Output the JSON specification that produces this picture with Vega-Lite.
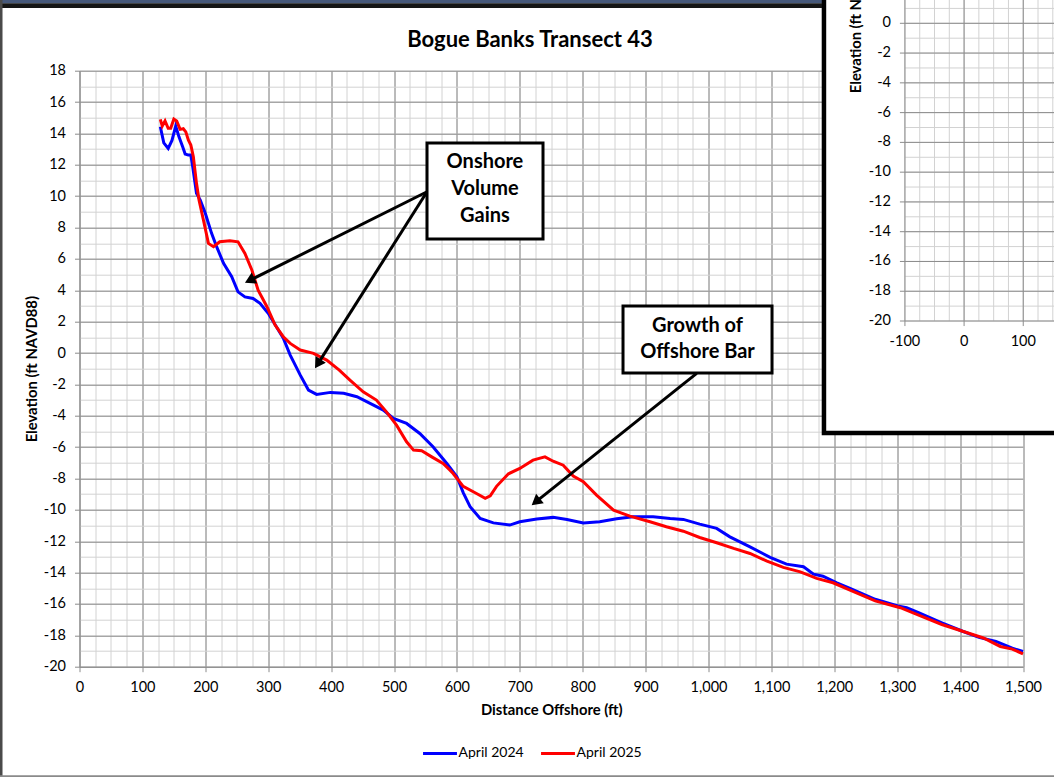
{
  "$schema": "https://vega.github.io/schema/vega-lite/v6.json",
  "width": 943.5,
  "height": 596,
  "autosize": {"type": "none"},
  "padding": {"left": 79.5, "top": 70.7, "right": 31, "bottom": 110.3},
  "background": "white",
  "config": {"view": {"stroke": null}, "font": "Lato"},
  "datasets": {
    "profiles": [
      {"survey": "April 2024", "distance": 128.5, "elevation": 14.43},
      {"survey": "April 2024", "distance": 134, "elevation": 13.4},
      {"survey": "April 2024", "distance": 141, "elevation": 13.05},
      {"survey": "April 2024", "distance": 147, "elevation": 13.55},
      {"survey": "April 2024", "distance": 153, "elevation": 14.47},
      {"survey": "April 2024", "distance": 158, "elevation": 13.8},
      {"survey": "April 2024", "distance": 164, "elevation": 13.15},
      {"survey": "April 2024", "distance": 168, "elevation": 12.69},
      {"survey": "April 2024", "distance": 173, "elevation": 12.62},
      {"survey": "April 2024", "distance": 177, "elevation": 12.62},
      {"survey": "April 2024", "distance": 180, "elevation": 11.88},
      {"survey": "April 2024", "distance": 186, "elevation": 10.18},
      {"survey": "April 2024", "distance": 192, "elevation": 9.75},
      {"survey": "April 2024", "distance": 200, "elevation": 8.91},
      {"survey": "April 2024", "distance": 210, "elevation": 7.63},
      {"survey": "April 2024", "distance": 218, "elevation": 6.78},
      {"survey": "April 2024", "distance": 229, "elevation": 5.72},
      {"survey": "April 2024", "distance": 242, "elevation": 4.86},
      {"survey": "April 2024", "distance": 252, "elevation": 3.9},
      {"survey": "April 2024", "distance": 263, "elevation": 3.58},
      {"survey": "April 2024", "distance": 276, "elevation": 3.48},
      {"survey": "April 2024", "distance": 287, "elevation": 3.17},
      {"survey": "April 2024", "distance": 300, "elevation": 2.53},
      {"survey": "April 2024", "distance": 313, "elevation": 1.67},
      {"survey": "April 2024", "distance": 324, "elevation": 0.95},
      {"survey": "April 2024", "distance": 335, "elevation": -0.13},
      {"survey": "April 2024", "distance": 351, "elevation": -1.41},
      {"survey": "April 2024", "distance": 364, "elevation": -2.36},
      {"survey": "April 2024", "distance": 377, "elevation": -2.64},
      {"survey": "April 2024", "distance": 399, "elevation": -2.51},
      {"survey": "April 2024", "distance": 420, "elevation": -2.57},
      {"survey": "April 2024", "distance": 441, "elevation": -2.79},
      {"survey": "April 2024", "distance": 462, "elevation": -3.21},
      {"survey": "April 2024", "distance": 483, "elevation": -3.64},
      {"survey": "April 2024", "distance": 499, "elevation": -4.17},
      {"survey": "April 2024", "distance": 520, "elevation": -4.49},
      {"survey": "April 2024", "distance": 541, "elevation": -5.13},
      {"survey": "April 2024", "distance": 562, "elevation": -5.98},
      {"survey": "April 2024", "distance": 584, "elevation": -7.04},
      {"survey": "April 2024", "distance": 600, "elevation": -7.89},
      {"survey": "April 2024", "distance": 610, "elevation": -8.9},
      {"survey": "April 2024", "distance": 621, "elevation": -9.8},
      {"survey": "April 2024", "distance": 637, "elevation": -10.55},
      {"survey": "April 2024", "distance": 658, "elevation": -10.83},
      {"survey": "April 2024", "distance": 684, "elevation": -10.97},
      {"survey": "April 2024", "distance": 700, "elevation": -10.76},
      {"survey": "April 2024", "distance": 727, "elevation": -10.59},
      {"survey": "April 2024", "distance": 753, "elevation": -10.48},
      {"survey": "April 2024", "distance": 775, "elevation": -10.61},
      {"survey": "April 2024", "distance": 801, "elevation": -10.83},
      {"survey": "April 2024", "distance": 827, "elevation": -10.76},
      {"survey": "April 2024", "distance": 854, "elevation": -10.57},
      {"survey": "April 2024", "distance": 880, "elevation": -10.44},
      {"survey": "April 2024", "distance": 912, "elevation": -10.44},
      {"survey": "April 2024", "distance": 939, "elevation": -10.55},
      {"survey": "April 2024", "distance": 960, "elevation": -10.61},
      {"survey": "April 2024", "distance": 986, "elevation": -10.91},
      {"survey": "April 2024", "distance": 1013, "elevation": -11.18},
      {"survey": "April 2024", "distance": 1034, "elevation": -11.72},
      {"survey": "April 2024", "distance": 1066, "elevation": -12.36},
      {"survey": "April 2024", "distance": 1098, "elevation": -13.03},
      {"survey": "April 2024", "distance": 1124, "elevation": -13.46},
      {"survey": "April 2024", "distance": 1151, "elevation": -13.63},
      {"survey": "April 2024", "distance": 1167, "elevation": -14.1},
      {"survey": "April 2024", "distance": 1182, "elevation": -14.23},
      {"survey": "April 2024", "distance": 1204, "elevation": -14.65},
      {"survey": "April 2024", "distance": 1225, "elevation": -15.01},
      {"survey": "April 2024", "distance": 1245, "elevation": -15.35},
      {"survey": "April 2024", "distance": 1265, "elevation": -15.7},
      {"survey": "April 2024", "distance": 1301, "elevation": -16.13},
      {"survey": "April 2024", "distance": 1315, "elevation": -16.24},
      {"survey": "April 2024", "distance": 1334, "elevation": -16.56},
      {"survey": "April 2024", "distance": 1371, "elevation": -17.2},
      {"survey": "April 2024", "distance": 1404, "elevation": -17.74},
      {"survey": "April 2024", "distance": 1430, "elevation": -18.13},
      {"survey": "April 2024", "distance": 1457, "elevation": -18.39},
      {"survey": "April 2024", "distance": 1483, "elevation": -18.82},
      {"survey": "April 2024", "distance": 1500, "elevation": -19.03},
      {"survey": "April 2025", "distance": 128.5, "elevation": 14.9},
      {"survey": "April 2025", "distance": 131.6, "elevation": 14.47},
      {"survey": "April 2025", "distance": 136, "elevation": 14.8},
      {"survey": "April 2025", "distance": 141, "elevation": 14.33},
      {"survey": "April 2025", "distance": 145, "elevation": 14.33},
      {"survey": "April 2025", "distance": 150, "elevation": 14.92},
      {"survey": "April 2025", "distance": 154.5, "elevation": 14.8},
      {"survey": "April 2025", "distance": 160, "elevation": 14.26},
      {"survey": "April 2025", "distance": 165, "elevation": 14.3},
      {"survey": "April 2025", "distance": 169, "elevation": 14.1},
      {"survey": "April 2025", "distance": 173, "elevation": 13.58},
      {"survey": "April 2025", "distance": 177, "elevation": 13.26},
      {"survey": "April 2025", "distance": 181, "elevation": 12.51},
      {"survey": "April 2025", "distance": 186, "elevation": 10.82},
      {"survey": "April 2025", "distance": 190, "elevation": 9.75},
      {"survey": "April 2025", "distance": 197, "elevation": 8.48},
      {"survey": "April 2025", "distance": 205, "elevation": 6.99},
      {"survey": "April 2025", "distance": 213, "elevation": 6.78},
      {"survey": "April 2025", "distance": 223, "elevation": 7.09},
      {"survey": "April 2025", "distance": 239, "elevation": 7.16},
      {"survey": "April 2025", "distance": 252, "elevation": 7.09},
      {"survey": "April 2025", "distance": 263, "elevation": 6.35},
      {"survey": "April 2025", "distance": 274, "elevation": 5.29},
      {"survey": "April 2025", "distance": 284, "elevation": 4.01},
      {"survey": "April 2025", "distance": 298, "elevation": 2.95},
      {"survey": "April 2025", "distance": 311, "elevation": 1.78},
      {"survey": "April 2025", "distance": 324, "elevation": 1.04},
      {"survey": "April 2025", "distance": 335, "elevation": 0.61},
      {"survey": "April 2025", "distance": 351, "elevation": 0.19},
      {"survey": "April 2025", "distance": 372, "elevation": -0.02},
      {"survey": "April 2025", "distance": 393, "elevation": -0.45},
      {"survey": "April 2025", "distance": 413, "elevation": -1.09},
      {"survey": "April 2025", "distance": 430, "elevation": -1.73},
      {"survey": "April 2025", "distance": 451, "elevation": -2.47},
      {"survey": "April 2025", "distance": 472, "elevation": -3.0},
      {"survey": "April 2025", "distance": 488, "elevation": -3.75},
      {"survey": "April 2025", "distance": 504, "elevation": -4.6},
      {"survey": "April 2025", "distance": 520, "elevation": -5.66},
      {"survey": "April 2025", "distance": 531, "elevation": -6.19},
      {"survey": "April 2025", "distance": 544, "elevation": -6.23},
      {"survey": "April 2025", "distance": 560, "elevation": -6.62},
      {"survey": "April 2025", "distance": 578, "elevation": -7.04},
      {"survey": "April 2025", "distance": 589, "elevation": -7.47},
      {"survey": "April 2025", "distance": 594, "elevation": -7.68},
      {"survey": "April 2025", "distance": 610, "elevation": -8.5},
      {"survey": "April 2025", "distance": 629, "elevation": -8.91},
      {"survey": "April 2025", "distance": 645, "elevation": -9.27},
      {"survey": "April 2025", "distance": 653, "elevation": -9.1},
      {"survey": "April 2025", "distance": 663, "elevation": -8.5},
      {"survey": "April 2025", "distance": 682, "elevation": -7.7},
      {"survey": "April 2025", "distance": 700, "elevation": -7.36},
      {"survey": "April 2025", "distance": 721, "elevation": -6.83},
      {"survey": "April 2025", "distance": 740, "elevation": -6.62},
      {"survey": "April 2025", "distance": 753, "elevation": -6.9},
      {"survey": "April 2025", "distance": 769, "elevation": -7.15},
      {"survey": "April 2025", "distance": 785, "elevation": -7.85},
      {"survey": "April 2025", "distance": 801, "elevation": -8.21},
      {"survey": "April 2025", "distance": 822, "elevation": -9.06},
      {"survey": "April 2025", "distance": 849, "elevation": -10.02},
      {"survey": "April 2025", "distance": 875, "elevation": -10.4},
      {"survey": "April 2025", "distance": 907, "elevation": -10.76},
      {"survey": "April 2025", "distance": 933, "elevation": -11.08},
      {"survey": "April 2025", "distance": 960, "elevation": -11.36},
      {"survey": "April 2025", "distance": 986, "elevation": -11.76},
      {"survey": "April 2025", "distance": 1013, "elevation": -12.1},
      {"survey": "April 2025", "distance": 1040, "elevation": -12.46},
      {"survey": "April 2025", "distance": 1066, "elevation": -12.78},
      {"survey": "April 2025", "distance": 1093, "elevation": -13.27},
      {"survey": "April 2025", "distance": 1119, "elevation": -13.67},
      {"survey": "April 2025", "distance": 1146, "elevation": -13.95},
      {"survey": "April 2025", "distance": 1172, "elevation": -14.37},
      {"survey": "April 2025", "distance": 1198, "elevation": -14.65},
      {"survey": "April 2025", "distance": 1225, "elevation": -15.12},
      {"survey": "April 2025", "distance": 1265, "elevation": -15.8},
      {"survey": "April 2025", "distance": 1305, "elevation": -16.24},
      {"survey": "April 2025", "distance": 1338, "elevation": -16.77},
      {"survey": "April 2025", "distance": 1371, "elevation": -17.31},
      {"survey": "April 2025", "distance": 1404, "elevation": -17.74},
      {"survey": "April 2025", "distance": 1437, "elevation": -18.17},
      {"survey": "April 2025", "distance": 1464, "elevation": -18.71},
      {"survey": "April 2025", "distance": 1483, "elevation": -18.88},
      {"survey": "April 2025", "distance": 1500, "elevation": -19.18}
    ],
    "insetMinorX": [{"ix": -100}, {"ix": -75}, {"ix": -50}, {"ix": -25}, {"ix": 0}, {"ix": 25}, {"ix": 50}, {"ix": 75}, {"ix": 100}, {"ix": 125}, {"ix": 150}],
    "insetMinorY": [{"iy": -20}, {"iy": -19}, {"iy": -18}, {"iy": -17}, {"iy": -16}, {"iy": -15}, {"iy": -14}, {"iy": -13}, {"iy": -12}, {"iy": -11}, {"iy": -10}, {"iy": -9}, {"iy": -8}, {"iy": -7}, {"iy": -6}, {"iy": -5}, {"iy": -4}, {"iy": -3}, {"iy": -2}, {"iy": -1}, {"iy": 0}, {"iy": 1}, {"iy": 2}],
    "insetMajorX": [{"ix": -100}, {"ix": 0}, {"ix": 100}],
    "insetMajorY": [{"iy": -20}, {"iy": -18}, {"iy": -16}, {"iy": -14}, {"iy": -12}, {"iy": -10}, {"iy": -8}, {"iy": -6}, {"iy": -4}, {"iy": -2}, {"iy": 0}, {"iy": 2}]
  },
  "resolve": {"scale": {"x": "independent", "y": "independent"}, "axis": {"x": "independent", "y": "independent"}},
  "layer": [
    {
      "data": {"name": "profiles"},
      "mark": {"type": "point", "opacity": 0},
      "encoding": {
        "x": {"field": "distance", "type": "quantitative", "scale": {"domain": [0, 1500], "nice": false, "zero": false},
          "axis": {"orient": "bottom", "values": [0,25,50,75,100,125,150,175,200,225,250,275,300,325,350,375,400,425,450,475,500,525,550,575,600,625,650,675,700,725,750,775,800,825,850,875,900,925,950,975,1000,1025,1050,1075,1100,1125,1150,1175,1200,1225,1250,1275,1300,1325,1350,1375,1400,1425,1450,1475,1500],
            "grid": true, "gridColor": "#d2d2d2", "gridWidth": 1, "labels": false, "ticks": false, "domain": false, "title": null, "zindex": 0}},
        "y": {"field": "elevation", "type": "quantitative", "scale": {"domain": [-20, 18], "nice": false, "zero": false},
          "axis": {"orient": "left", "values": [-20,-19,-18,-17,-16,-15,-14,-13,-12,-11,-10,-9,-8,-7,-6,-5,-4,-3,-2,-1,0,1,2,3,4,5,6,7,8,9,10,11,12,13,14,15,16,17,18],
            "grid": true, "gridColor": "#d2d2d2", "gridWidth": 1, "labels": false, "ticks": false, "domain": false, "title": null, "zindex": 0}}
      }
    },
    {
      "data": {"name": "profiles"},
      "mark": {"type": "point", "opacity": 0},
      "encoding": {
        "x": {"field": "distance", "type": "quantitative", "scale": {"domain": [0, 1500], "nice": false, "zero": false},
          "axis": {"orient": "bottom", "values": [0,100,200,300,400,500,600,700,800,900,1000,1100,1200,1300,1400,1500],
            "labelExpr": "replace(format(datum.value, ','), '\u2212', '-')",
            "grid": true, "gridColor": "#8c8c8c", "gridWidth": 1, "domainColor": "#8c8c8c", "tickColor": "#8c8c8c", "tickSize": 5,
            "labelFont": "Lato", "labelFontSize": 14.5, "labelColor": "black", "labelPadding": 9, "labelFlush": false, "labelOverlap": false,
            "title": "Distance Offshore (ft)", "titleFont": "Lato", "titleFontSize": 14.8, "titleFontWeight": "bold", "titleColor": "black", "titlePadding": 8, "zindex": 0}},
        "y": {"field": "elevation", "type": "quantitative", "scale": {"domain": [-20, 18], "nice": false, "zero": false},
          "axis": {"orient": "left", "values": [-20,-18,-16,-14,-12,-10,-8,-6,-4,-2,0,2,4,6,8,10,12,14,16,18],
            "labelExpr": "replace(format(datum.value, 'd'), '\u2212', '-')",
            "grid": true, "gridColor": "#8c8c8c", "gridWidth": 1, "domainColor": "#8c8c8c", "tickColor": "#8c8c8c", "tickSize": 5,
            "labelFont": "Lato", "labelFontSize": 14.5, "labelColor": "black", "labelPadding": 9, "labelOverlap": false, "labelFlush": false,
            "title": "Elevation (ft NAVD88)", "titleFont": "Lato", "titleFontSize": 14.8, "titleFontWeight": "bold", "titleColor": "black", "titlePadding": 4, "zindex": 0}}
      }
    },
    {
      "layer": [
        {
          "data": {"name": "profiles"},
          "mark": {"type": "line", "strokeWidth": 3, "interpolate": "linear"},
          "encoding": {
            "x": {"field": "distance", "type": "quantitative", "scale": {"domain": [0, 1500], "nice": false, "zero": false}, "axis": null},
            "y": {"field": "elevation", "type": "quantitative", "scale": {"domain": [-20, 18], "nice": false, "zero": false}, "axis": null},
            "color": {"field": "survey", "type": "nominal", "scale": {"domain": ["April 2024", "April 2025"], "range": ["#0000ff", "#ff0000"]},
              "legend": {"orient": "none", "legendX": 342, "legendY": 664, "direction": "horizontal", "title": null, "symbolType": "stroke", "symbolSize": 1150, "symbolStrokeWidth": 3,
                "labelFont": "Lato", "labelFontSize": 14, "labelColor": "black", "labelOffset": 0, "columnPadding": 10}},
            "detail": {"field": "survey"}
          }
        },
        {
          "data": {"values": [{}]},
          "mark": {"type": "text", "text": "Bogue Banks Transect 43", "font": "Lato", "fontSize": 22, "fontWeight": "bold", "color": "black", "align": "center", "baseline": "alphabetic"},
          "encoding": {"x": {"datum": 716.2, "axis": null}, "y": {"datum": 19.51, "axis": null}}
        },
        {
          "data": {"values": [{}]},
          "mark": {"type": "rule", "color": "black", "strokeWidth": 3},
          "encoding": {"x": {"datum": 552.5, "axis": null}, "y": {"datum": 10.28, "axis": null}, "x2": {"datum": 270.6}, "y2": {"datum": 4.63}}
        },
        {
          "data": {"values": [{}]},
          "mark": {"type": "rule", "color": "black", "strokeWidth": 3},
          "encoding": {"x": {"datum": 552.5, "axis": null}, "y": {"datum": 10.28, "axis": null}, "x2": {"datum": 378.9}, "y2": {"datum": -0.69}}
        },
        {
          "data": {"values": [{}]},
          "mark": {"type": "rule", "color": "black", "strokeWidth": 3},
          "encoding": {"x": {"datum": 981.2, "axis": null}, "y": {"datum": -1.3, "axis": null}, "x2": {"datum": 725.4}, "y2": {"datum": -9.49}}
        },
        {
          "data": {"values": [{}]},
          "mark": {"type": "point", "shape": "triangle-up", "filled": true, "color": "black", "opacity": 1, "size": 150, "angle": 243.4},
          "encoding": {"x": {"datum": 270.6, "axis": null}, "y": {"datum": 4.63, "axis": null}}
        },
        {
          "data": {"values": [{}]},
          "mark": {"type": "point", "shape": "triangle-up", "filled": true, "color": "black", "opacity": 1, "size": 150, "angle": 212.3},
          "encoding": {"x": {"datum": 378.9, "axis": null}, "y": {"datum": -0.69, "axis": null}}
        },
        {
          "data": {"values": [{}]},
          "mark": {"type": "point", "shape": "triangle-up", "filled": true, "color": "black", "opacity": 1, "size": 150, "angle": 231.4},
          "encoding": {"x": {"datum": 725.4, "axis": null}, "y": {"datum": -9.49, "axis": null}}
        },
        {
          "data": {"values": [{}]},
          "mark": {"type": "rect", "fill": "white", "stroke": "black", "strokeWidth": 3},
          "encoding": {"x": {"datum": 552.5, "axis": null}, "x2": {"datum": 736.9}, "y": {"datum": 7.27, "axis": null}, "y2": {"datum": 13.39}}
        },
        {
          "data": {"values": [{}]},
          "mark": {"type": "rect", "fill": "white", "stroke": "black", "strokeWidth": 3},
          "encoding": {"x": {"datum": 864.1, "axis": null}, "x2": {"datum": 1101.0}, "y": {"datum": -1.28, "axis": null}, "y2": {"datum": 3.0}}
        },
        {
          "data": {"values": [{}]},
          "mark": {"type": "text", "text": ["Onshore", "Volume", "Gains"], "font": "Lato", "fontSize": 20, "fontWeight": "bold", "color": "black", "align": "center", "baseline": "middle", "lineHeight": 27},
          "encoding": {"x": {"datum": 644.6, "axis": null}, "y": {"datum": 12.16, "axis": null}}
        },
        {
          "data": {"values": [{}]},
          "mark": {"type": "text", "text": ["Growth of", "Offshore Bar"], "font": "Lato", "fontSize": 20, "fontWeight": "bold", "color": "black", "align": "center", "baseline": "middle", "lineHeight": 26.3},
          "encoding": {"x": {"datum": 982.5, "axis": null}, "y": {"datum": 1.72, "axis": null}}
        },
        {
          "data": {"values": [{}]},
          "mark": {"type": "rect", "color": "#46587a"},
          "encoding": {"x": {"datum": -127, "axis": null}, "x2": {"datum": 1180.4}, "y": {"datum": 22.3, "axis": null}, "y2": {"datum": 22.7}}
        },
        {
          "data": {"values": [{}]},
          "mark": {"type": "rect", "color": "#151515"},
          "encoding": {"x": {"datum": -127, "axis": null}, "x2": {"datum": 1180.4}, "y": {"datum": 22.0, "axis": null}, "y2": {"datum": 22.3}}
        },
        {
          "data": {"values": [{}]},
          "mark": {"type": "rect", "color": "#4a4a4a"},
          "encoding": {"x": {"datum": -127, "axis": null}, "x2": {"datum": -122.4}, "y": {"datum": -27.5, "axis": null}, "y2": {"datum": 23}}
        },
        {
          "data": {"values": [{}]},
          "mark": {"type": "rect", "color": "#8a8a8a"},
          "encoding": {"x": {"datum": -127, "axis": null}, "x2": {"datum": 1560}, "y": {"datum": -27.5, "axis": null}, "y2": {"datum": -26.92}}
        }
      ]
    },
    {
      "layer": [
        {
          "data": {"values": [{}]},
          "mark": {"type": "rect", "fill": "white", "stroke": "black", "strokeWidth": 4.5},
          "encoding": {
            "x": {"datum": -236.9, "type": "quantitative", "scale": {"domain": [-1495.5, 99.6], "nice": false, "zero": false}, "axis": null},
            "x2": {"datum": 170},
            "y": {"datum": -27.52, "type": "quantitative", "scale": {"domain": [-43.224, -3.184], "nice": false, "zero": false}, "axis": null},
            "y2": {"datum": 3}
          }
        },
        {
          "data": {"name": "insetMinorX"},
          "mark": {"type": "rule", "color": "#d2d2d2", "strokeWidth": 1},
          "encoding": {
            "x": {"field": "ix", "type": "quantitative", "scale": {"domain": [-1495.5, 99.6], "nice": false, "zero": false}, "axis": null},
            "y": {"datum": -20, "type": "quantitative", "scale": {"domain": [-43.224, -3.184], "nice": false, "zero": false}, "axis": null},
            "y2": {"datum": 3}
          }
        },
        {
          "data": {"name": "insetMinorY"},
          "mark": {"type": "rule", "color": "#d2d2d2", "strokeWidth": 1},
          "encoding": {
            "y": {"field": "iy", "type": "quantitative", "scale": {"domain": [-43.224, -3.184], "nice": false, "zero": false}, "axis": null},
            "x": {"datum": -100, "type": "quantitative", "scale": {"domain": [-1495.5, 99.6], "nice": false, "zero": false}, "axis": null},
            "x2": {"datum": 170}
          }
        },
        {
          "data": {"name": "insetMajorX"},
          "mark": {"type": "rule", "color": "#8c8c8c", "strokeWidth": 1},
          "encoding": {
            "x": {"field": "ix", "type": "quantitative", "scale": {"domain": [-1495.5, 99.6], "nice": false, "zero": false}, "axis": null},
            "y": {"datum": -20.34, "type": "quantitative", "scale": {"domain": [-43.224, -3.184], "nice": false, "zero": false}, "axis": null},
            "y2": {"datum": 3}
          }
        },
        {
          "data": {"name": "insetMajorY"},
          "mark": {"type": "rule", "color": "#8c8c8c", "strokeWidth": 1},
          "encoding": {
            "y": {"field": "iy", "type": "quantitative", "scale": {"domain": [-43.224, -3.184], "nice": false, "zero": false}, "axis": null},
            "x": {"datum": -108.5, "type": "quantitative", "scale": {"domain": [-1495.5, 99.6], "nice": false, "zero": false}, "axis": null},
            "x2": {"datum": 170}
          }
        },
        {
          "data": {"name": "insetMajorY"},
          "transform": [{"filter": "datum.iy <= 0"}],
          "mark": {"type": "text", "font": "Lato", "fontSize": 14.5, "color": "black", "align": "right", "baseline": "middle", "dx": -14},
          "encoding": {
            "y": {"field": "iy", "type": "quantitative", "scale": {"domain": [-43.224, -3.184], "nice": false, "zero": false}, "axis": null},
            "x": {"datum": -100, "type": "quantitative", "scale": {"domain": [-1495.5, 99.6], "nice": false, "zero": false}, "axis": null},
            "text": {"field": "iy", "type": "nominal"}
          }
        },
        {
          "data": {"name": "insetMajorX"},
          "mark": {"type": "text", "font": "Lato", "fontSize": 14.5, "color": "black", "align": "center", "baseline": "middle"},
          "encoding": {
            "x": {"field": "ix", "type": "quantitative", "scale": {"domain": [-1495.5, 99.6], "nice": false, "zero": false}, "axis": null},
            "y": {"datum": -21.39, "type": "quantitative", "scale": {"domain": [-43.224, -3.184], "nice": false, "zero": false}, "axis": null},
            "text": {"field": "ix", "type": "nominal"}
          }
        },
        {
          "data": {"values": [{}]},
          "mark": {"type": "text", "text": "Elevation (ft NAVD88)", "font": "Lato", "fontSize": 14.8, "fontWeight": "bold", "color": "black", "align": "left", "baseline": "middle", "angle": 270},
          "encoding": {
            "x": {"datum": -181.2, "type": "quantitative", "scale": {"domain": [-1495.5, 99.6], "nice": false, "zero": false}, "axis": null},
            "y": {"datum": -4.7, "type": "quantitative", "scale": {"domain": [-43.224, -3.184], "nice": false, "zero": false}, "axis": null}
          }
        }
      ]
    }
  ]
}
